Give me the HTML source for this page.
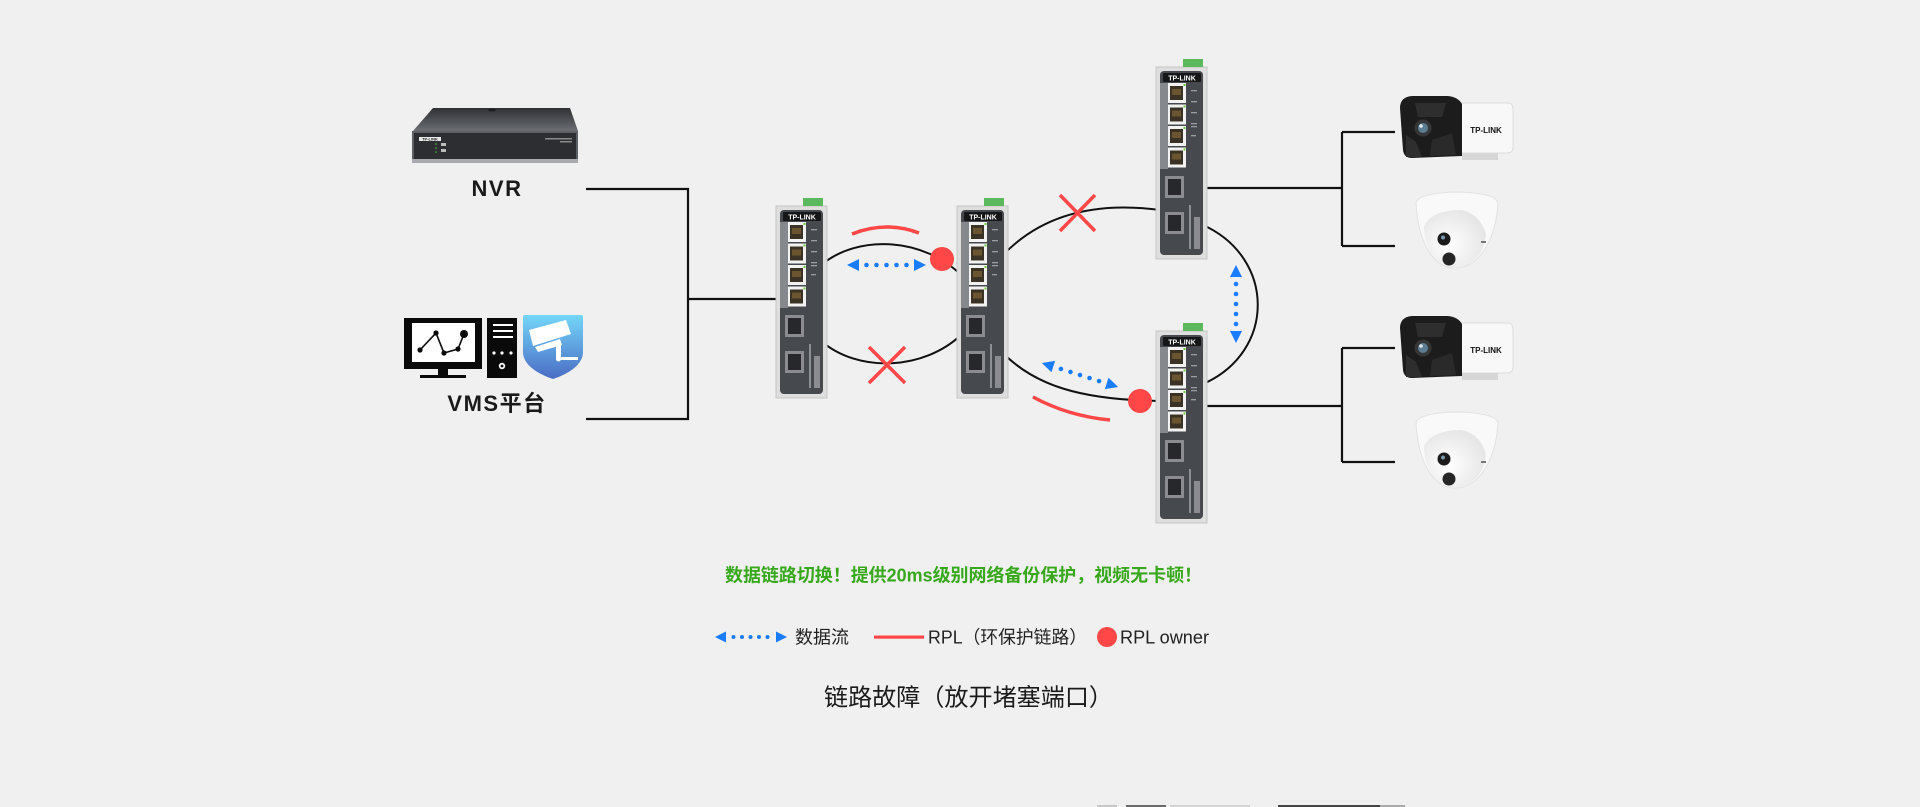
<!DOCTYPE html>
<html><head><meta charset="utf-8"><style>
html,body{margin:0;padding:0;background:#f0f0f0;}
svg{display:block;}
</style></head><body>
<svg width="1920" height="807" viewBox="0 0 1920 807" xmlns="http://www.w3.org/2000/svg">
<defs>
<linearGradient id="shg" x1="0" y1="0" x2="0" y2="1"><stop offset="0" stop-color="#74d6f9"/><stop offset="1" stop-color="#4a6cc4"/></linearGradient>
<linearGradient id="nvrtop" x1="0" y1="0" x2="0" y2="1"><stop offset="0" stop-color="#2f3134"/><stop offset="1" stop-color="#6a6d72"/></linearGradient>
<radialGradient id="domeg" cx="0.4" cy="0.6" r="0.6"><stop offset="0" stop-color="#ffffff"/><stop offset="1" stop-color="#e6e6e6"/></radialGradient>
</defs>
<rect width="1920" height="807" fill="#f0f0f0"/>

<!-- left connectors -->
<g stroke="#111" stroke-width="2.2" fill="none">
<path d="M586,189 H688 V419 H586"/>
<path d="M688,299 H777"/>
<!-- right connectors -->
<path d="M1206,188 H1342 M1342,132 V246 M1342,132 H1395 M1342,246 H1395"/>
<path d="M1206,406 H1342 M1342,348 V462 M1342,348 H1395 M1342,462 H1395"/>
</g>

<!-- ring arcs -->
<g stroke="#111" stroke-width="2" fill="none">
<path d="M820,266 C858,233 925,238 962,276"/>
<path d="M820,340 C858,374 925,370 962,334"/>
<path d="M1004,254 C1045,212 1100,202 1160,210"/>
<path d="M1004,354 C1035,385 1080,400 1160,401"/>
<path d="M1203,225 C1276,258 1276,352 1203,384"/>
</g>

<!-- NVR -->
<g>
<path d="M433,108 L570,108 L578,131 L413,131 Z" fill="url(#nvrtop)"/>
<ellipse cx="492" cy="110" rx="4" ry="1.5" fill="#1e1f21"/>
<rect x="412" y="131" width="166" height="32" fill="#5c5f63"/>
<rect x="414" y="133" width="162" height="26" fill="#2c2e31"/>
<rect x="419" y="137" width="22" height="4" fill="#e8e8e8"/>
<text x="430" y="140.5" font-family="Liberation Sans, sans-serif" font-size="4" font-weight="bold" fill="#222" text-anchor="middle">TP-LINK</text>
<circle cx="436" cy="144" r="0.8" fill="#4c4"/><circle cx="436" cy="148" r="0.8" fill="#4c4"/><circle cx="436" cy="152" r="0.8" fill="#4c4"/>
<rect x="441" y="143" width="5" height="3" fill="#bbb"/><rect x="441" y="149" width="5" height="3" fill="#bbb"/>
<rect x="545" y="138" width="27" height="1.5" fill="#8a8a8a"/><rect x="560" y="141" width="12" height="1.5" fill="#8a8a8a"/>
<rect x="412" y="159" width="166" height="4" fill="#a8aaad"/>
</g>
<text x="497" y="196" font-family="Liberation Sans, sans-serif" font-size="22" font-weight="bold" fill="#1a1a1a" text-anchor="middle" letter-spacing="1.5">NVR</text>

<!-- VMS icon -->
<g>
<rect x="404" y="318" width="78" height="51" fill="#0a0a0a"/>
<rect x="412" y="323" width="63" height="39" fill="#fff"/>
<rect x="438" y="368" width="10" height="9" fill="#0a0a0a"/>
<rect x="420" y="375" width="46" height="3" fill="#0a0a0a"/>
<polyline points="420,350 436,333 444,353 458,349 464,334" fill="none" stroke="#0a0a0a" stroke-width="1.6"/>
<circle cx="420" cy="350" r="2.6" fill="#0a0a0a"/><circle cx="436" cy="333" r="2.6" fill="#0a0a0a"/>
<circle cx="444" cy="353" r="2.6" fill="#0a0a0a"/><circle cx="458" cy="349" r="2.6" fill="#0a0a0a"/>
<circle cx="464" cy="334" r="4" fill="#0a0a0a"/>
<rect x="487" y="318" width="30" height="60" fill="#0a0a0a"/>
<rect x="493" y="324" width="20" height="2" fill="#fff"/><rect x="493" y="330" width="20" height="2" fill="#fff"/><rect x="493" y="336" width="20" height="2" fill="#fff"/>
<circle cx="494" cy="353" r="1.6" fill="#fff"/><circle cx="502" cy="353" r="1.6" fill="#fff"/><circle cx="511" cy="353" r="1.6" fill="#fff"/>
<circle cx="502" cy="366" r="3.2" fill="#fff"/><circle cx="502" cy="366" r="1.4" fill="#0a0a0a"/>
<path d="M523,317 Q523,315 525,315 L581,315 Q583,315 583,317 L583,352 C583,365 568,374 553,379 C538,374 523,365 523,352 Z" fill="url(#shg)"/>
<path d="M529,330 L566,320 L571,334 L533,346 Z" fill="#fff"/>
<path d="M535,347 L560,339 L562,345 L538,352 Z" fill="#fff"/>
<rect x="556" y="345" width="5" height="14" fill="#fff"/>
<rect x="558" y="357" width="20" height="3" fill="#fff"/>
<circle cx="558.5" cy="359" r="2.5" fill="#fff"/>
</g>
<text x="497" y="411" font-family="Liberation Sans, 'Noto Sans CJK SC', sans-serif" font-size="22" font-weight="bold" fill="#1a1a1a" text-anchor="middle" letter-spacing="1.5">VMS平台</text>

<!-- Switch 1 -->
<g transform="translate(776,206)">
<rect x="0" y="0" width="51" height="192" fill="#dedede" stroke="#c6c6c6"/>
<rect x="27" y="-8" width="20" height="8" fill="#5cb85c"/>
<rect x="4" y="4" width="43" height="184" rx="4" fill="#46494e"/>
<rect x="4" y="16" width="8" height="86" fill="#85888c"/>
<rect x="7" y="6" width="38" height="9" rx="1" fill="#151618"/>
<text x="26" y="13.3" font-family="Liberation Sans, sans-serif" font-size="7" font-weight="bold" fill="#fff" text-anchor="middle">TP-LINK</text>
<g><rect x="12" y="16" width="18" height="20" fill="#f2f2f2"/><rect x="14" y="19" width="13" height="14" fill="#3a3325"/><rect x="16" y="22" width="9" height="6" fill="#6b5530"/><rect x="27.5" y="17" width="2" height="2" fill="#6c3"/></g>
<g><rect x="12" y="37.5" width="18" height="20" fill="#f2f2f2"/><rect x="14" y="40.5" width="13" height="14" fill="#3a3325"/><rect x="16" y="43.5" width="9" height="6" fill="#6b5530"/><rect x="27.5" y="38.5" width="2" height="2" fill="#6c3"/></g>
<g><rect x="12" y="59" width="18" height="20" fill="#f2f2f2"/><rect x="14" y="62" width="13" height="14" fill="#3a3325"/><rect x="16" y="65" width="9" height="6" fill="#6b5530"/><rect x="27.5" y="60" width="2" height="2" fill="#6c3"/></g>
<g><rect x="12" y="80.5" width="18" height="20" fill="#f2f2f2"/><rect x="14" y="83.5" width="13" height="14" fill="#3a3325"/><rect x="16" y="86.5" width="9" height="6" fill="#6b5530"/><rect x="27.5" y="81.5" width="2" height="2" fill="#6c3"/></g>
<g fill="#9a9da1"><rect x="35" y="23" width="6" height="1.3"/><rect x="35" y="34" width="6" height="1.3"/><rect x="35" y="45" width="6" height="1.3"/><rect x="35" y="56" width="6" height="1.3"/><rect x="35" y="59" width="6" height="1.3"/><rect x="35" y="68" width="5" height="1.3"/></g>
<rect x="9" y="109" width="19" height="22" fill="#8a8c90"/><rect x="12" y="112" width="13" height="16" fill="#27282b"/>
<rect x="9" y="145" width="19" height="22" fill="#8a8c90"/><rect x="12" y="148" width="13" height="16" fill="#27282b"/>
<rect x="33" y="138" width="2" height="44" fill="#8d9094"/><rect x="38" y="150" width="6" height="32" fill="#a7aaae" opacity="0.7"/>
</g>

<!-- Switch 2 -->
<g transform="translate(957,206)">
<rect x="0" y="0" width="51" height="192" fill="#dedede" stroke="#c6c6c6"/>
<rect x="27" y="-8" width="20" height="8" fill="#5cb85c"/>
<rect x="4" y="4" width="43" height="184" rx="4" fill="#46494e"/>
<rect x="4" y="16" width="8" height="86" fill="#85888c"/>
<rect x="7" y="6" width="38" height="9" rx="1" fill="#151618"/>
<text x="26" y="13.3" font-family="Liberation Sans, sans-serif" font-size="7" font-weight="bold" fill="#fff" text-anchor="middle">TP-LINK</text>
<g><rect x="12" y="16" width="18" height="20" fill="#f2f2f2"/><rect x="14" y="19" width="13" height="14" fill="#3a3325"/><rect x="16" y="22" width="9" height="6" fill="#6b5530"/><rect x="27.5" y="17" width="2" height="2" fill="#6c3"/></g>
<g><rect x="12" y="37.5" width="18" height="20" fill="#f2f2f2"/><rect x="14" y="40.5" width="13" height="14" fill="#3a3325"/><rect x="16" y="43.5" width="9" height="6" fill="#6b5530"/><rect x="27.5" y="38.5" width="2" height="2" fill="#6c3"/></g>
<g><rect x="12" y="59" width="18" height="20" fill="#f2f2f2"/><rect x="14" y="62" width="13" height="14" fill="#3a3325"/><rect x="16" y="65" width="9" height="6" fill="#6b5530"/><rect x="27.5" y="60" width="2" height="2" fill="#6c3"/></g>
<g><rect x="12" y="80.5" width="18" height="20" fill="#f2f2f2"/><rect x="14" y="83.5" width="13" height="14" fill="#3a3325"/><rect x="16" y="86.5" width="9" height="6" fill="#6b5530"/><rect x="27.5" y="81.5" width="2" height="2" fill="#6c3"/></g>
<g fill="#9a9da1"><rect x="35" y="23" width="6" height="1.3"/><rect x="35" y="34" width="6" height="1.3"/><rect x="35" y="45" width="6" height="1.3"/><rect x="35" y="56" width="6" height="1.3"/><rect x="35" y="59" width="6" height="1.3"/><rect x="35" y="68" width="5" height="1.3"/></g>
<rect x="9" y="109" width="19" height="22" fill="#8a8c90"/><rect x="12" y="112" width="13" height="16" fill="#27282b"/>
<rect x="9" y="145" width="19" height="22" fill="#8a8c90"/><rect x="12" y="148" width="13" height="16" fill="#27282b"/>
<rect x="33" y="138" width="2" height="44" fill="#8d9094"/><rect x="38" y="150" width="6" height="32" fill="#a7aaae" opacity="0.7"/>
</g>

<!-- Switch 3 -->
<g transform="translate(1156,67)">
<rect x="0" y="0" width="51" height="192" fill="#dedede" stroke="#c6c6c6"/>
<rect x="27" y="-8" width="20" height="8" fill="#5cb85c"/>
<rect x="4" y="4" width="43" height="184" rx="4" fill="#46494e"/>
<rect x="4" y="16" width="8" height="86" fill="#85888c"/>
<rect x="7" y="6" width="38" height="9" rx="1" fill="#151618"/>
<text x="26" y="13.3" font-family="Liberation Sans, sans-serif" font-size="7" font-weight="bold" fill="#fff" text-anchor="middle">TP-LINK</text>
<g><rect x="12" y="16" width="18" height="20" fill="#f2f2f2"/><rect x="14" y="19" width="13" height="14" fill="#3a3325"/><rect x="16" y="22" width="9" height="6" fill="#6b5530"/><rect x="27.5" y="17" width="2" height="2" fill="#6c3"/></g>
<g><rect x="12" y="37.5" width="18" height="20" fill="#f2f2f2"/><rect x="14" y="40.5" width="13" height="14" fill="#3a3325"/><rect x="16" y="43.5" width="9" height="6" fill="#6b5530"/><rect x="27.5" y="38.5" width="2" height="2" fill="#6c3"/></g>
<g><rect x="12" y="59" width="18" height="20" fill="#f2f2f2"/><rect x="14" y="62" width="13" height="14" fill="#3a3325"/><rect x="16" y="65" width="9" height="6" fill="#6b5530"/><rect x="27.5" y="60" width="2" height="2" fill="#6c3"/></g>
<g><rect x="12" y="80.5" width="18" height="20" fill="#f2f2f2"/><rect x="14" y="83.5" width="13" height="14" fill="#3a3325"/><rect x="16" y="86.5" width="9" height="6" fill="#6b5530"/><rect x="27.5" y="81.5" width="2" height="2" fill="#6c3"/></g>
<g fill="#9a9da1"><rect x="35" y="23" width="6" height="1.3"/><rect x="35" y="34" width="6" height="1.3"/><rect x="35" y="45" width="6" height="1.3"/><rect x="35" y="56" width="6" height="1.3"/><rect x="35" y="59" width="6" height="1.3"/><rect x="35" y="68" width="5" height="1.3"/></g>
<rect x="9" y="109" width="19" height="22" fill="#8a8c90"/><rect x="12" y="112" width="13" height="16" fill="#27282b"/>
<rect x="9" y="145" width="19" height="22" fill="#8a8c90"/><rect x="12" y="148" width="13" height="16" fill="#27282b"/>
<rect x="33" y="138" width="2" height="44" fill="#8d9094"/><rect x="38" y="150" width="6" height="32" fill="#a7aaae" opacity="0.7"/>
</g>

<!-- Switch 4 -->
<g transform="translate(1156,331)">
<rect x="0" y="0" width="51" height="192" fill="#dedede" stroke="#c6c6c6"/>
<rect x="27" y="-8" width="20" height="8" fill="#5cb85c"/>
<rect x="4" y="4" width="43" height="184" rx="4" fill="#46494e"/>
<rect x="4" y="16" width="8" height="86" fill="#85888c"/>
<rect x="7" y="6" width="38" height="9" rx="1" fill="#151618"/>
<text x="26" y="13.3" font-family="Liberation Sans, sans-serif" font-size="7" font-weight="bold" fill="#fff" text-anchor="middle">TP-LINK</text>
<g><rect x="12" y="16" width="18" height="20" fill="#f2f2f2"/><rect x="14" y="19" width="13" height="14" fill="#3a3325"/><rect x="16" y="22" width="9" height="6" fill="#6b5530"/><rect x="27.5" y="17" width="2" height="2" fill="#6c3"/></g>
<g><rect x="12" y="37.5" width="18" height="20" fill="#f2f2f2"/><rect x="14" y="40.5" width="13" height="14" fill="#3a3325"/><rect x="16" y="43.5" width="9" height="6" fill="#6b5530"/><rect x="27.5" y="38.5" width="2" height="2" fill="#6c3"/></g>
<g><rect x="12" y="59" width="18" height="20" fill="#f2f2f2"/><rect x="14" y="62" width="13" height="14" fill="#3a3325"/><rect x="16" y="65" width="9" height="6" fill="#6b5530"/><rect x="27.5" y="60" width="2" height="2" fill="#6c3"/></g>
<g><rect x="12" y="80.5" width="18" height="20" fill="#f2f2f2"/><rect x="14" y="83.5" width="13" height="14" fill="#3a3325"/><rect x="16" y="86.5" width="9" height="6" fill="#6b5530"/><rect x="27.5" y="81.5" width="2" height="2" fill="#6c3"/></g>
<g fill="#9a9da1"><rect x="35" y="23" width="6" height="1.3"/><rect x="35" y="34" width="6" height="1.3"/><rect x="35" y="45" width="6" height="1.3"/><rect x="35" y="56" width="6" height="1.3"/><rect x="35" y="59" width="6" height="1.3"/><rect x="35" y="68" width="5" height="1.3"/></g>
<rect x="9" y="109" width="19" height="22" fill="#8a8c90"/><rect x="12" y="112" width="13" height="16" fill="#27282b"/>
<rect x="9" y="145" width="19" height="22" fill="#8a8c90"/><rect x="12" y="148" width="13" height="16" fill="#27282b"/>
<rect x="33" y="138" width="2" height="44" fill="#8d9094"/><rect x="38" y="150" width="6" height="32" fill="#a7aaae" opacity="0.7"/>
</g>

<!-- red RPL arcs -->
<g stroke="#ff4747" stroke-width="3.5" fill="none" stroke-linecap="butt">
<path d="M852,234 Q886,220.5 919,233"/>
<path d="M1033,397 Q1068,416 1110,420"/>
</g>
<!-- red X -->
<g stroke="#ff4747" stroke-width="3.5" stroke-linecap="butt">
<path d="M869,347 L905,383 M905,347 L869,383"/>
<path d="M1060,195 L1095,231 M1095,195 L1060,231"/>
</g>
<!-- owners -->
<circle cx="942" cy="259" r="12" fill="#ff4747"/>
<circle cx="1140" cy="401" r="12" fill="#ff4747"/>

<!-- blue arrows -->
<g fill="#1a7cff">
<g transform="translate(886.5,265)">
<path d="M-39.5,0 L-27.5,-6 L-27.5,6 Z"/><path d="M39.5,0 L27.5,-6 L27.5,6 Z"/>
<circle cx="-20" cy="0" r="2.3"/><circle cx="-10" cy="0" r="2.3"/><circle cx="0" cy="0" r="2.3"/><circle cx="10" cy="0" r="2.3"/><circle cx="20" cy="0" r="2.3"/>
</g>
<g transform="translate(1080,375) rotate(17.5)">
<path d="M-40,0 L-28,-6 L-28,6 Z"/><path d="M40,0 L28,-6 L28,6 Z"/>
<circle cx="-20" cy="0" r="2.3"/><circle cx="-10" cy="0" r="2.3"/><circle cx="0" cy="0" r="2.3"/><circle cx="10" cy="0" r="2.3"/><circle cx="20" cy="0" r="2.3"/>
</g>
<g transform="translate(1236,304) rotate(90)">
<path d="M-39,0 L-27,-6 L-27,6 Z"/><path d="M39,0 L27,-6 L27,6 Z"/>
<circle cx="-20" cy="0" r="2.3"/><circle cx="-10" cy="0" r="2.3"/><circle cx="0" cy="0" r="2.3"/><circle cx="10" cy="0" r="2.3"/><circle cx="20" cy="0" r="2.3"/>
</g>
<!-- legend arrow -->
<g transform="translate(751,637)">
<path d="M-36,0 L-25,-5.5 L-25,5.5 Z"/><path d="M36,0 L25,-5.5 L25,5.5 Z"/>
<circle cx="-17.5" cy="0" r="2"/><circle cx="-9" cy="0" r="2"/><circle cx="-0.5" cy="0" r="2"/><circle cx="8" cy="0" r="2"/><circle cx="16.5" cy="0" r="2"/>
</g>
</g>

<!-- Bullet cameras -->
<g>
<path d="M1452,103 L1508,103 Q1513,103 1513,110 L1513,147 Q1513,153 1507,153 L1452,153 Z" fill="#f8f8f8" stroke="#dcdcdc"/>
<rect x="1462" y="153" width="36" height="7" fill="#d6d6d6"/>
<path d="M1400,108 Q1400,97 1412,96 L1448,96 Q1458,97 1462,104 L1462,156 L1412,158 Q1404,158 1403,150 Z" fill="#1c1c1c"/>
<path d="M1415,103 L1446,103 L1442,117 L1418,117 Z" fill="#2e2e2e"/>
<path d="M1406,135 L1416,142 L1422,157 L1406,157 Z" fill="#2e2e2e"/>
<path d="M1432,140 L1452,133 L1456,155 L1430,156 Z" fill="#2a2a2a"/>
<circle cx="1423" cy="128" r="8.5" fill="#363636"/>
<circle cx="1423" cy="128" r="5" fill="#5d7d92"/>
<circle cx="1421" cy="126" r="1.8" fill="#dfeaf0"/>
<text x="1486" y="133" font-family="Liberation Sans, sans-serif" font-size="8" font-weight="bold" fill="#111" text-anchor="middle">TP-LINK</text>
</g>
<g>
<path d="M1452,323 L1508,323 Q1513,323 1513,330 L1513,367 Q1513,373 1507,373 L1452,373 Z" fill="#f8f8f8" stroke="#dcdcdc"/>
<rect x="1462" y="373" width="36" height="7" fill="#d6d6d6"/>
<path d="M1400,328 Q1400,317 1412,316 L1448,316 Q1458,317 1462,324 L1462,376 L1412,378 Q1404,378 1403,370 Z" fill="#1c1c1c"/>
<path d="M1415,323 L1446,323 L1442,337 L1418,337 Z" fill="#2e2e2e"/>
<path d="M1406,355 L1416,362 L1422,377 L1406,377 Z" fill="#2e2e2e"/>
<path d="M1432,360 L1452,353 L1456,375 L1430,376 Z" fill="#2a2a2a"/>
<circle cx="1423" cy="348" r="8.5" fill="#363636"/>
<circle cx="1423" cy="348" r="5" fill="#5d7d92"/>
<circle cx="1421" cy="346" r="1.8" fill="#dfeaf0"/>
<text x="1486" y="353" font-family="Liberation Sans, sans-serif" font-size="8" font-weight="bold" fill="#111" text-anchor="middle">TP-LINK</text>
</g>
<!-- domes -->
<g>
<path d="M1416,203 Q1418,193 1457,192 Q1496,193 1498,203 C1496,238 1480,268 1455,268 C1432,268 1418,240 1416,203 Z" fill="#f9f9f9" stroke="#e2e2e2"/>
<path d="M1424,226 Q1432,210 1462,210 Q1480,214 1486,234 Q1484,258 1464,266 Q1448,270 1436,260 Q1424,246 1424,226 Z" fill="url(#domeg)"/>
<circle cx="1444" cy="239" r="6.5" fill="#1b1b1b"/><circle cx="1443" cy="237.5" r="2" fill="#7a9ab0"/>
<circle cx="1449" cy="259" r="6.5" fill="#252525"/>
<rect x="1481" y="241" width="5" height="2" fill="#777"/>
</g>
<g>
<path d="M1416,423 Q1418,413 1457,412 Q1496,413 1498,423 C1496,458 1480,488 1455,488 C1432,488 1418,460 1416,423 Z" fill="#f9f9f9" stroke="#e2e2e2"/>
<path d="M1424,446 Q1432,430 1462,430 Q1480,434 1486,454 Q1484,478 1464,486 Q1448,490 1436,480 Q1424,466 1424,446 Z" fill="url(#domeg)"/>
<circle cx="1444" cy="459" r="6.5" fill="#1b1b1b"/><circle cx="1443" cy="457.5" r="2" fill="#7a9ab0"/>
<circle cx="1449" cy="479" r="6.5" fill="#252525"/>
<rect x="1481" y="461" width="5" height="2" fill="#777"/>
</g>

<!-- texts -->
<text x="725" y="581.5" font-family="'Liberation Sans','Noto Sans CJK SC',sans-serif" font-size="18" font-weight="bold" fill="#37a81b" textLength="477" lengthAdjust="spacingAndGlyphs">数据链路切换！提供20ms级别网络备份保护，视频无卡顿！</text>

<text x="795" y="643.5" font-family="'Liberation Sans','Noto Sans CJK SC',sans-serif" font-size="18" fill="#222" textLength="54" lengthAdjust="spacingAndGlyphs">数据流</text>
<rect x="874" y="635.5" width="50" height="3.2" fill="#ff4747"/>
<text x="928" y="643.5" font-family="'Liberation Sans','Noto Sans CJK SC',sans-serif" font-size="18" fill="#222" textLength="159" lengthAdjust="spacingAndGlyphs">RPL（环保护链路）</text>
<circle cx="1107" cy="637" r="10" fill="#ff4747"/>
<text x="1120" y="643.5" font-family="'Liberation Sans','Noto Sans CJK SC',sans-serif" font-size="18" fill="#222" textLength="89" lengthAdjust="spacingAndGlyphs">RPL owner</text>

<text x="824" y="705.5" font-family="'Liberation Sans','Noto Sans CJK SC',sans-serif" font-size="24" fill="#1a1a1a" textLength="289" lengthAdjust="spacingAndGlyphs">链路故障（放开堵塞端口）</text>

<!-- bottom cut-off strip -->
<rect x="1097" y="805" width="20" height="2" fill="#c8c8c8"/>
<rect x="1126" y="805" width="40" height="2" fill="#6a6a6a"/>
<rect x="1170" y="805" width="80" height="2" fill="#d4d4d4"/>
<rect x="1278" y="805" width="102" height="2" fill="#444"/>
<rect x="1380" y="805" width="25" height="2" fill="#aaa"/>
</svg>
</body></html>
